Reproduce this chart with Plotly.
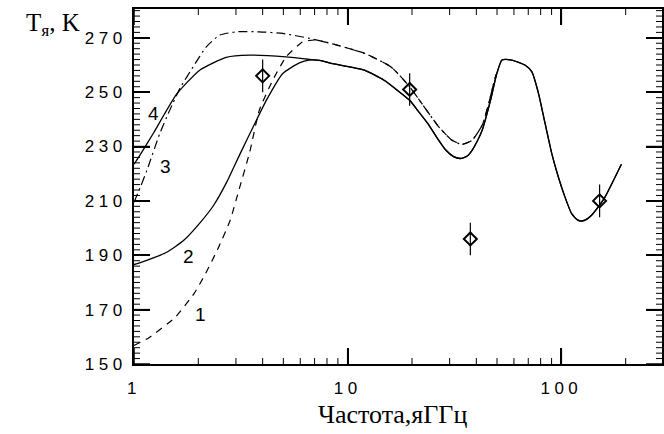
import math
import plotly.graph_objects as go

# ---- data (frequency in GHz, brightness temperature in K) ----
f4_low = [1.00, 1.054, 1.23, 1.58, 2.03, 2.70, 3.48, 5.15, 6.40]
t4_low = [223.5, 226.2, 234.8, 249.2, 258.1, 262.8, 263.6, 263.0, 262.2]

f2_low = [1.00, 1.054, 1.24, 1.43, 1.71, 2.05, 2.36, 2.72, 3.14, 3.61, 4.16, 4.97, 5.94, 6.60]
t2_low = [186.6, 187.1, 189.1, 191.2, 195.5, 202.2, 208.4, 217.0, 227.4, 237.2, 247.0, 256.9, 260.8, 261.8]

f_solid_tail = [7.5, 8.38, 11.97, 14.8, 19.5, 21.4, 23.7, 26.3, 28.7, 31.3, 33.7, 36.3, 38.2,
                40.7, 42.6, 46.6, 49.9, 52.7, 56.6, 63.1, 67.8, 72.8, 78.2, 83.9, 90.2,
                96.8, 104.0, 111.7, 118.9, 124.5, 131.8, 138.4, 147.9, 160.0, 191.0]
t_solid_tail = [261.6, 260.6, 258.1, 254.4, 247.0, 243.0, 238.5, 233.0, 228.8, 226.3, 225.6, 226.5, 228.6,
                232.5, 236.0, 247.0, 256.9, 261.8, 262.0, 261.0, 259.9, 257.5, 249.5, 238.5, 227.4,
                218.8, 211.4, 205.3, 203.0, 202.6, 203.3, 204.7, 207.5, 211.4, 223.5]

f1_low = [1.00, 1.17, 1.56, 1.91, 2.16, 2.49, 2.82, 3.08, 3.48, 3.86, 4.46, 5.15, 6.15]
t1_low = [156.8, 159.6, 167.2, 175.9, 183.2, 193.0, 202.9, 213.3, 228.0, 243.4, 254.4, 263.0, 268.5]

f3_low = [1.00, 1.07, 1.15, 1.32, 1.47, 1.64, 1.89, 2.18, 2.52, 3.01, 3.86, 4.97, 6.62]
t3_low = [209.5, 215.0, 221.3, 234.8, 243.4, 251.4, 259.3, 266.7, 271.0, 272.2, 272.2, 271.6, 269.8]

f_dash_tail = [7.0, 8.38, 11.97, 15.96, 19.5, 22.8, 26.7, 30.8, 34.3, 38.2, 42.6, 45.7, 48.2, 49.5]
t_dash_tail = [269.2, 267.9, 264.3, 259.3, 252.0, 244.6, 237.2, 232.3, 230.8, 232.3, 237.8, 245.8, 253.2, 256.5]

obs_f = [4.0, 19.5, 37.5, 151.0]
obs_t = [256.0, 251.0, 196.0, 210.0]
obs_err = [6.0, 6.0, 6.0, 6.0]

label_text = ["4", "3", "2", "1"]
label_f = [1.24, 1.41, 1.79, 2.05]
label_t = [242.3, 222.5, 189.5, 168.3]

x_major = [1, 10, 100]
x_minor = [2, 3, 4, 5, 6, 7, 8, 9, 20, 30, 40, 50, 60, 70, 80, 90, 200]
y_major = [150, 170, 190, 210, 230, 250, 270]
y_minor = list(range(152, 281, 2))

X_RANGE = [0, 2.471]      # log10(GHz)
Y_RANGE = [150, 280.6]    # K

MAJ_LEN, MIN_LEN = 16, 6  # tick lengths in pixels

# ---- figure ----
fig = go.Figure()
solid = dict(color="black", width=1.3, shape="spline", smoothing=0.5)

fig.add_trace(go.Scatter(x=f1_low + f_dash_tail, y=t1_low + t_dash_tail, mode="lines",
                         line=dict(color="black", width=1.2, dash="7px,6px", shape="spline", smoothing=0.5)))
fig.add_trace(go.Scatter(x=f3_low + f_dash_tail[1:], y=t3_low + t_dash_tail[1:], mode="lines",
                         line=dict(color="black", width=1.2, dash="9px,4px,2px,4px", shape="spline", smoothing=0.5)))
fig.add_trace(go.Scatter(x=f2_low + f_solid_tail, y=t2_low + t_solid_tail, mode="lines", line=solid))
fig.add_trace(go.Scatter(x=f4_low + f_solid_tail, y=t4_low + t_solid_tail, mode="lines", line=solid))
fig.add_trace(go.Scatter(x=obs_f, y=obs_t, mode="markers",
                         marker=dict(symbol="diamond-open", size=10, color="black",
                                     line=dict(width=2, color="black")),
                         error_y=dict(type="data", array=obs_err, visible=True, color="black",
                                      thickness=1.2, width=0)))


# ---- inside tick marks on all four sides, as pixel-length shapes anchored on the axes ----
def x_tick_shapes(vals, length, width):
    out = []
    for v in vals:
        for anchor, sign in ((0, 1), (1, -1)):
            out.append(dict(type="line", xref="x", yref="paper", x0=v, x1=v,
                            ysizemode="pixel", yanchor=anchor, y0=0, y1=sign * length,
                            line=dict(color="black", width=width), layer="above"))
    return out


def y_tick_shapes(vals, length, width):
    out = []
    for v in vals:
        for anchor, sign in ((0, 1), (1, -1)):
            out.append(dict(type="line", xref="paper", yref="y", y0=v, y1=v,
                            xsizemode="pixel", xanchor=anchor, x0=0, x1=sign * length,
                            line=dict(color="black", width=width), layer="above"))
    return out


shapes = (x_tick_shapes(x_major, MAJ_LEN, 1.5) + x_tick_shapes(x_minor, MIN_LEN, 1.0)
          + y_tick_shapes(y_major, MAJ_LEN, 1.5) + y_tick_shapes(y_minor, MIN_LEN, 1.0))

for txt, fx, ty in zip(label_text, label_f, label_t):
    fig.add_annotation(x=math.log10(fx), y=ty, text=txt, showarrow=False,
                       font=dict(family="Liberation Sans", size=19, color="black"))

fig.add_annotation(xref="paper", yref="paper", x=-0.2075, y=0.956, xanchor="left", yanchor="middle",
                   text="T<sub>я</sub>, K", showarrow=False,
                   font=dict(family="Liberation Serif", size=25, color="black"))
fig.add_annotation(xref="paper", yref="paper", x=0.49, y=-0.141, xanchor="center", yanchor="middle",
                   text="Частота,яГГц", showarrow=False,
                   font=dict(family="Liberation Serif", size=26, color="black"))

tickfont = dict(family="Liberation Sans", size=17, color="black")

fig.update_layout(
    width=664, height=434, margin=dict(l=134, r=0, t=9, b=70),
    paper_bgcolor="white", plot_bgcolor="white", showlegend=False,
    shapes=shapes,
    xaxis=dict(type="log", range=X_RANGE, tickmode="array", tickvals=x_major,
               ticktext=[str(v) for v in x_major], tickfont=tickfont,
               ticks="inside", ticklen=MAJ_LEN, tickwidth=1.5, tickcolor="black",
               ticklabelstandoff=8,
               showline=True, linecolor="black", linewidth=2, mirror="allticks",
               showgrid=False, zeroline=False),
    yaxis=dict(range=Y_RANGE, tickmode="array", tickvals=y_major,
               ticktext=[str(v) for v in y_major], tickfont=tickfont,
               ticks="inside", ticklen=MAJ_LEN, tickwidth=1.5, tickcolor="black",
               ticklabelstandoff=2,
               showline=True, linecolor="black", linewidth=2, mirror="allticks",
               showgrid=False, zeroline=False),
)

post = ("var gd=document.getElementById('{plot_id}');"
        "gd.querySelectorAll('.xtick text, .ytick text').forEach(function(t){t.style.letterSpacing='4.5px';});")
fig.write_html("out.html", post_script=post)
